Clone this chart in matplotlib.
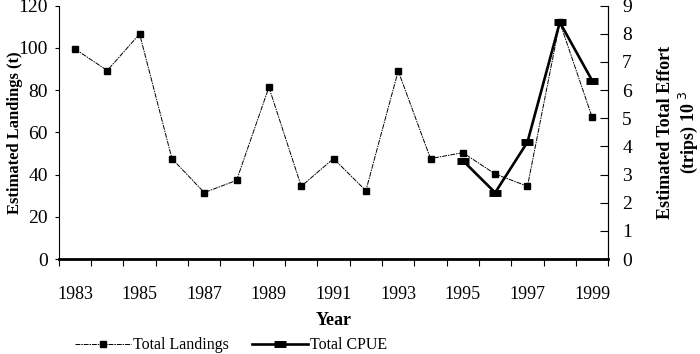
import numpy as np
import matplotlib
matplotlib.use('Agg')
import matplotlib.pyplot as plt

plt.rcParams['font.family'] = ['Liberation Serif', 'DejaVu Serif']

years = list(range(1983, 2000))
landings = [99.5, 89.3, 106.6, 47.6, 31.5, 37.3, 81.4, 34.5, 47.6,
            32.4, 89.1, 47.6, 50.4, 40.3, 34.5, 112.1, 67.2]
cpue_years = [1995, 1996, 1997, 1998, 1999]
cpue = [3.5, 2.36, 4.16, 8.41, 6.34]
year_labels = [str(y) for y in range(1983, 2000, 2)]

fig = plt.figure(figsize=(7, 3.54), dpi=100)
ax = fig.add_axes([0.084, 0.268, 0.785, 0.716])
ax2 = ax.twinx()

x = np.arange(len(years))
ax.plot(x, landings, color='black', lw=0.7, dashes=(5, 1, 1.5, 1),
        marker='s', ms=4.5, mec='black', mfc='black', label='Total Landings')
cx = [years.index(y) for y in cpue_years]
ax2.plot(cx, cpue, color='black', lw=1.9, marker='_', ms=9, mew=5,
         label='Total CPUE')

ax.set_xlim(-0.5, len(years) - 0.5)
ax.set_ylim(0, 120)
ax2.set_ylim(0, 9)
ax.set_yticks(range(0, 121, 20))
ax2.set_yticks(range(0, 10))

# labels at odd years, tick marks between categories
ax.set_xticks(np.arange(0, len(years), 2))
ax.set_xticklabels(year_labels)
ax.tick_params(axis='x', length=0, pad=19, labelsize=13)
ax.set_xticks(np.arange(-0.5, len(years), 1), minor=True)
ax.tick_params(axis='x', which='minor', direction='out', length=5, width=0.8)
ax.tick_params(axis='y', direction='out', length=3, width=0.8, labelsize=14, pad=5)
ax2.tick_params(axis='y', direction='in', length=6, width=0.8, labelsize=14, pad=10)

for a in (ax, ax2):
    a.spines['top'].set_visible(False)
ax.spines['bottom'].set_linewidth(2)
ax.spines['left'].set_linewidth(0.8)
ax2.spines['right'].set_linewidth(0.8)
ax2.spines['right'].set_linestyle((0, (6, 1)))
ax2.spines['bottom'].set_visible(False)
ax2.spines['left'].set_visible(False)

ax.set_ylabel('Estimated Landings (t)', fontsize=12, fontweight='bold')
ax.yaxis.set_label_coords(-0.066, 0.5)
ax2.set_ylabel('Estimated Total Effort\n(trips) 10$^{\\ 3}$', fontsize=13,
               fontweight='bold', linespacing=1.2)
ax2.yaxis.set_label_coords(1.088, 0.5)
ax.set_xlabel('Year', fontsize=13, fontweight='bold', labelpad=7)

h1, l1 = ax.get_legend_handles_labels()
h2, l2 = ax2.get_legend_handles_labels()
fig.legend(h1 + h2, l1 + l2, loc='center', bbox_to_anchor=(0.33, 0.025),
           ncol=2, frameon=False, fontsize=11.5, handlelength=3.5,
           handletextpad=0.1, columnspacing=1.5)

fig.savefig('out.png', dpi=100)
